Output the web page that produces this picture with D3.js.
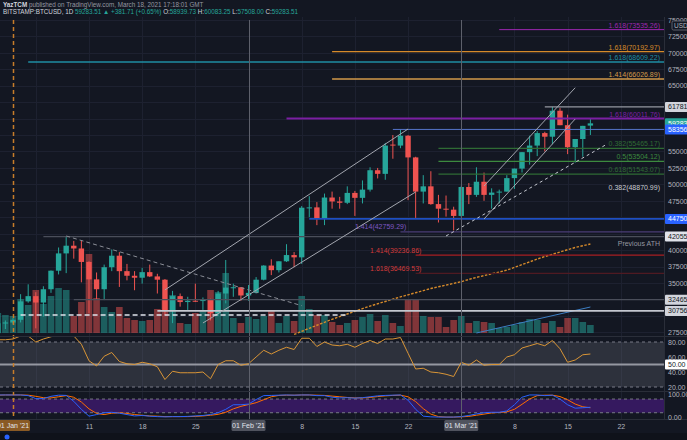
<!DOCTYPE html>
<html>
<head>
<meta charset="utf-8">
<script src="https://cdn.jsdelivr.net/npm/d3@7"></script>
<style>
html, body { margin: 0; padding: 0; background: #131722; }
svg { display: block; font-family: "Liberation Sans", Arial, sans-serif; }
</style>
</head>
<body>
<svg id="chart" width="687" height="440"></svg>
<script>
// BITSTAMP:BTCUSD 1D, 30 Dec 2020 -> 18 Mar 2021
var firstDay = "2020-12-30", lastDay = "2021-03-18";

var opens = [27370, 28880,
    28990, 29400, 32200, 33000, 32030, 34050, 36870, 39500, 40670, 40250,
    38200, 35550, 34050, 37400, 39150, 36800, 36100, 35800, 36650, 36000,
    35500, 30850, 33000, 32100, 32300, 32250, 32500, 30400, 33400, 34300, 34350,
    33100, 33500, 35500, 37650, 36950, 38300, 39250, 38900, 46450, 46500,
    44850, 48000, 47400, 47200, 48700, 47950, 49200, 52150, 51600, 56050,
    55900, 57400, 54100, 48900, 49700, 47000, 46300, 46150,
    45200, 49600, 48400, 50400, 48400, 48750, 48900, 50950, 52400, 54900,
    55900, 57800, 57250, 61200, 59000, 55650, 56900, 58940];
var highs = [28990, 29300,
    29680, 33300, 34800, 33600, 34500, 36900, 40400, 42000, 41400, 41400,
    38300, 36600, 37800, 40100, 39700, 37900, 36800, 37300, 37800, 36400,
    35600, 33800, 33400, 32900, 34900, 32800, 32600, 33800, 38500, 34900, 34350,
    34700, 35900, 37700, 38600, 38300, 40900, 39700, 46700, 48200, 47300,
    48600, 48900, 48100, 49700, 49000, 50600, 52600, 52500, 56300, 57500,
    58350, 57500, 54200, 51400, 52000, 48400, 48300, 46600,
    49800, 50200, 52600, 51800, 49400, 49200, 51400, 52400, 54900, 57400,
    58100, 58000, 61780, 61600, 60600, 56900, 58900, 60080];
var lows = [27320, 28000,
    28700, 29000, 32000, 28100, 29900, 33500, 36300, 36500, 38700, 35100,
    30400, 32500, 32400, 36800, 34400, 35400, 33900, 34900, 35900, 33400,
    30100, 28900, 31400, 30900, 32100, 30900, 29300, 30000, 31900, 32900, 32300,
    32300, 33400, 35400, 36200, 36600, 38200, 37400, 37900, 45000, 43800,
    43800, 46300, 46300, 47000, 45200, 47100, 48900, 50900, 50700, 53900,
    55500, 47600, 44900, 47100, 46900, 44200, 45100, 43000,
    45000, 47000, 48100, 47500, 46300, 47100, 48900, 49300, 51800, 53000,
    54300, 55000, 56100, 59000, 54600, 53300, 54200, 57510];
var closes = [28880, 28990,
    29400, 32200, 33000, 32030, 34050, 36870, 39500, 40670, 40250, 38200,
    35550, 34050, 37400, 39150, 36800, 36100, 35800, 36650, 36000, 35500,
    30850, 33000, 32100, 32300, 32250, 32500, 30400, 33400, 34300, 34350, 33100,
    33500, 35500, 37650, 36950, 38300, 39250, 38900, 46450, 46500, 44850,
    48000, 47400, 47200, 48700, 47950, 49200, 52150, 51600, 55900, 55900,
    57400, 54100, 48900, 49700, 47000, 46300, 46150, 45200,
    49600, 48400, 50400, 48400, 48750, 48900, 50950, 52400, 54900, 55900,
    57800, 57250, 61200, 59000, 55650, 56900, 58900, 59280];
// volume, thousand BTC
var volumes = [10, 9,
    8.5, 17, 14, 21.5, 14.5, 18.5, 22.5, 21.5, 8.5, 15.5,
    39.5, 17.5, 13, 10.5, 13, 7.5, 6.5, 6, 6.5, 12,
    16.5, 19, 5, 4.5, 10, 11.5, 21.5, 20.5, 30, 7.5, 5,
    8, 7, 8.5, 11.5, 5, 8.5, 6, 18.5, 12, 9,
    9, 5.5, 4, 5, 6.5, 8, 9.5, 6, 9, 5,
    3.5, 16.5, 17, 8.5, 8, 8, 3, 6.5,
    8.5, 5, 6, 5.5, 5, 2.5, 3, 4, 5.5, 7,
    6.5, 5, 6, 3, 7.5, 7.5, 5.5, 4];
var rsi = [83, 83,
    84, 88, 88, 80, 84, 87, 90, 90, 88, 77,
    55, 48, 61, 66, 54, 51, 50, 53, 51, 47,
    30, 41, 39, 39, 39, 40, 31, 50, 55, 55, 49,
    51, 60, 69, 64, 69, 73, 70, 85, 85, 74,
    80, 76, 75, 77, 73, 78, 82, 78, 84, 84,
    86, 65, 44, 45, 40, 39, 37, 34,
    53, 49, 56, 49, 50, 50, 60, 63, 72, 75,
    78, 75, 82, 71, 53, 56, 63, 64];
var stochK = [98, 98,
    98, 98, 95, 82, 82, 92, 97, 96, 70, 35,
    5, 12, 20, 22, 18, 12, 6, 8, 5, 3,
    2, 3, 3, 4, 6, 8, 12, 20, 35, 55, 55,
    58, 78, 95, 96, 97, 98, 97, 98, 98, 95,
    95, 88, 85, 86, 84, 86, 90, 94, 96, 97,
    98, 75, 35, 5, 2, 1, 1, 1,
    3, 8, 15, 20, 22, 22, 28, 55, 88, 98,
    98, 95, 97, 80, 55, 40, 42, 44];
var stochD = [97, 98,
    98, 98, 97, 92, 86, 85, 90, 95, 88, 67,
    37, 17, 12, 18, 20, 17, 12, 9, 6, 5,
    3, 3, 3, 3, 4, 6, 9, 13, 22, 37, 48,
    56, 64, 77, 90, 96, 97, 97, 98, 98, 97,
    96, 93, 90, 87, 85, 85, 87, 91, 94, 96,
    97, 90, 69, 38, 14, 3, 1, 1,
    2, 4, 9, 14, 19, 21, 24, 35, 57, 80,
    95, 97, 97, 91, 77, 58, 46, 42];
// moving average, from 7 Feb
var maStart = "2021-02-07";
var maValues = [27170, 27640, 28110, 28570, 29020, 29480, 29890, 30280, 30690, 31100, 31490,
    31840, 32190, 32540, 32890, 33200, 33520, 33840, 34160, 34420, 34680, 34940,
    35200, 35540, 35850, 36120, 36400, 36670, 36960, 37370, 37800, 38210, 38640,
    39020, 39370, 39710, 40060, 40400, 40660, 40930];

var priceTicks = d3.range(27500, 75001, 2500);
var dayTicks = ["2021-01-11", "2021-01-18", "2021-01-25", "2021-02-08", "2021-02-15", "2021-02-22", "2021-03-08", "2021-03-15", "2021-03-22"];

// horizontal drawings: price, start day, label, colour
var levels = [
    {p: 73535.26, from: "2021-03-06", label: "1.618(73535.26)", color: "#9c27b0", w: 1},
    {p: 70192.97, from: "2021-02-12", label: "1.618(70192.97)", color: "#d68a2a", w: 1.3},
    {p: 68609.22, from: "2021-01-03", label: "1.618(68609.22)", color: "#1f8ea3", w: 1.3},
    {p: 66026.89, from: "2021-02-12", label: "1.414(66026.89)", color: "#d39a4a", w: 1.3},
    {p: 61781, from: "2021-03-12", label: "", color: "#9598a1", w: 1.3},
    {p: 60011.76, from: "2021-02-06", label: "1.618(60011.76)", color: "#7b1fa2", w: 2},
    {p: 58356, from: "2021-02-20", label: "", color: "#5574c9", w: 1},
    {p: 55465.17, from: "2021-02-26", label: "0.382(55465.17)", color: "#2f6b34", w: 1.3},
    {p: 53504.12, from: "2021-02-26", label: "0.5(53504.12)", color: "#3c8a3f", w: 1.3},
    {p: 51543.07, from: "2021-02-26", label: "0.618(51543.07)", color: "#2f6b34", w: 1.3},
    {p: 48870.99, from: "2021-02-26", label: "0.382(48870.99)", color: "#131722", w: 0, text: "#c9cbd1"},
    {p: 44750, from: "2021-02-09", label: "", color: "#1e4fc2", w: 1.6},
    {p: 42759.29, from: "2021-02-21", label: "", color: "#4a3d75", w: 1.3},
    {p: 42055, from: "2021-01-05", label: "Previous ATH", color: "#4a4e5a", w: 1.3, below: true, text: "#9598a1"},
    {p: 39236.86, from: "2021-02-23", label: "", color: "#a81f22", w: 1.3},
    {p: 36469.53, from: "2021-02-23", label: "", color: "#4f1a22", w: 1.3},
    {p: 32465, from: "2021-01-09", label: "", color: "#4a4e5a", w: 1.3},
    {p: 30756, from: "2021-01-20", label: "", color: "#c4c7cf", w: 1.8}
];
// labels written at the left end of a level
var sideLabels = [
    {p: 42759.29, at: "2021-02-15", label: "1.414(42759.29)", color: "#7e57c2"},
    {p: 39236.86, at: "2021-02-17", label: "1.414(39236.86)", color: "#d23a3a"},
    {p: 36469.53, at: "2021-02-17", label: "1.618(36469.53)", color: "#d23a3a"}
];
// trend lines: [day, price] pairs
var trendLines = [
    {a: ["2021-01-21", 33950], b: ["2021-02-22", 58420], dash: null},
    {a: ["2021-01-26", 28915], b: ["2021-02-23", 48840], dash: null},
    {a: ["2021-03-04", 49750], b: ["2021-03-16", 64700], dash: null},
    {a: ["2021-03-04", 44730], b: ["2021-03-16", 59940], dash: null},
    {a: ["2021-01-08", 42150], b: ["2021-02-08", 31550], dash: "4,3", color: "#8a8d96"},
    {a: ["2021-02-27", 42150], b: ["2021-03-20", 56000], dash: "3,3", color: "#c4c7cf"},
    {a: ["2021-01-02", 30150], b: ["2021-02-14", 30150], dash: "5,3", color: "#e0e3eb", w: 1.5}
];
var volLine = {a: ["2021-03-03", 0], b: ["2021-03-18", 13]};
// axis boxes on the price scale
var priceBoxes = [
    {p: 61781, text: "61781.00", bg: "#d1d4dc", fg: "#131722"},
    {p: 59283.51, text: "59283.51", bg: "#26a69a", fg: "#ffffff"},
    {p: 58356, text: "58356.00", bg: "#2962ff", fg: "#ffffff"},
    {p: 44750, text: "44750.00", bg: "#2962ff", fg: "#ffffff"},
    {p: 42055, text: "42055.00", bg: "#e0e3eb", fg: "#131722"},
    {p: 32465, text: "32465.00", bg: "#d1d4dc", fg: "#131722"},
    {p: 30756, text: "30756.00", bg: "#d1d4dc", fg: "#131722"}
];
var markDays = [
    {d: "2021-01-01", label: "01 Jan '21", color: "#c77d2a", dash: "4,3", bg: "#8a5a24"},
    {d: "2021-02-01", label: "01 Feb '21", color: "#5d606b", dash: null, bg: "#50535e"},
    {d: "2021-03-01", label: "01 Mar '21", color: "#5d606b", dash: null, bg: "#50535e"}
];

var parse = d3.utcParse("%Y-%m-%d");
var days = d3.utcDays(parse(firstDay), d3.utcDay.offset(parse(lastDay), 1));
var bars = days.map(function (d, i) {
    return {date: d, o: opens[i], h: highs[i], l: lows[i], c: closes[i], v: volumes[i], rsi: rsi[i], k: stochK[i], dd: stochD[i]};
});
var maDays = d3.utcDays(parse(maStart), d3.utcDay.offset(parse(lastDay), 1));

var svg = d3.select("#chart");
var W = 687, H = 440, plotR = 664;
var mainTop = 17, mainBot = 336, rsiTop = 337, rsiBot = 391, stTop = 392, stBot = 419;
var teal = "#26a69a", red = "#ef5350", txt = "#b2b5be";

var x = d3.scaleUtc().domain([parse("2021-01-01"), parse("2021-03-15")]).range([13, 567.6]);
var y = d3.scaleLinear().domain([27500, 75000]).range([332.3, 20]);
var yVol = d3.scaleLinear().domain([0, 40]).range([333, 253]);
var yRsi = d3.scaleLinear().domain([20, 80]).range([387, 342]);
var ySt = d3.scaleLinear().domain([0, 100]).range([417.3, 394.5]);

svg.append("rect").attr("width", W).attr("height", H).attr("fill", "#131722");

var defs = svg.append("defs");
defs.append("clipPath").attr("id", "cMain").append("rect")
    .attr("x", 0).attr("y", mainTop).attr("width", plotR).attr("height", mainBot - mainTop);
defs.append("clipPath").attr("id", "cRsi").append("rect")
    .attr("x", 0).attr("y", rsiTop).attr("width", plotR).attr("height", rsiBot - rsiTop);
defs.append("clipPath").attr("id", "cSt").append("rect")
    .attr("x", 0).attr("y", stTop).attr("width", plotR).attr("height", stBot - stTop);
defs.append("clipPath").attr("id", "cAxis").append("rect")
    .attr("x", 0).attr("y", stBot).attr("width", W).attr("height", 14);

// grid
var grid = svg.append("g").attr("stroke", "#1d2130").attr("stroke-width", 1);
grid.selectAll(".hg").data(priceTicks).enter().append("line")
    .attr("x1", 0).attr("x2", plotR)
    .attr("y1", function (d) { return Math.round(y(d)) + 0.5; })
    .attr("y2", function (d) { return Math.round(y(d)) + 0.5; });
var gridDays = dayTicks.concat(["2021-01-04"]).map(parse);
grid.selectAll(".vg").data(gridDays).enter().append("line")
    .attr("y1", mainTop).attr("y2", stBot)
    .attr("x1", function (d) { return Math.round(x(d)) + 0.5; })
    .attr("x2", function (d) { return Math.round(x(d)) + 0.5; });

// main pane
var main = svg.append("g").attr("clip-path", "url(#cMain)");

main.selectAll(".vol").data(bars).enter().append("rect")
    .attr("x", function (d) { return x(d.date) - 3.3; })
    .attr("width", 6.6)
    .attr("y", function (d) { return yVol(d.v); })
    .attr("height", function (d) { return yVol(0) - yVol(d.v); })
    .attr("fill", function (d) { return d.c >= d.o ? teal : red; })
    .attr("opacity", 0.5);

main.append("path")
    .datum(maDays.map(function (d, i) { return [d, maValues[i]]; }))
    .attr("fill", "none").attr("stroke", "#d68a2a").attr("stroke-width", 1.4)
    .attr("stroke-dasharray", "2.5,1.5")
    .attr("d", d3.line().x(function (d) { return x(d[0]); }).y(function (d) { return y(d[1]); }));

main.append("line")
    .attr("x1", x(parse(volLine.a[0]))).attr("y1", yVol(volLine.a[1]))
    .attr("x2", x(parse(volLine.b[0]))).attr("y2", yVol(volLine.b[1]))
    .attr("stroke", "#3d7fc4").attr("stroke-width", 1);

var candle = main.selectAll(".candle").data(bars).enter().append("g")
    .attr("fill", function (d) { return d.c >= d.o ? teal : red; })
    .attr("stroke", function (d) { return d.c >= d.o ? teal : red; });
candle.append("line")
    .attr("x1", function (d) { return x(d.date); })
    .attr("x2", function (d) { return x(d.date); })
    .attr("y1", function (d) { return y(d.h); })
    .attr("y2", function (d) { return y(d.l); })
    .attr("stroke-width", 1);
candle.append("rect")
    .attr("x", function (d) { return x(d.date) - 2.7; })
    .attr("width", 5.4)
    .attr("y", function (d) { return y(Math.max(d.o, d.c)); })
    .attr("height", function (d) { return Math.max(1, Math.abs(y(d.o) - y(d.c))); })
    .attr("stroke", "none");

// horizontal levels
main.selectAll(".lvl").data(levels.filter(function (d) { return d.w > 0; })).enter().append("line")
    .attr("x1", function (d) { return x(parse(d.from)); })
    .attr("x2", plotR)
    .attr("y1", function (d) { return y(d.p); })
    .attr("y2", function (d) { return y(d.p); })
    .attr("stroke", function (d) { return d.color; })
    .attr("stroke-width", function (d) { return d.w; });
main.selectAll(".lvlt").data(levels.filter(function (d) { return d.label; })).enter().append("text")
    .attr("x", 660)
    .attr("y", function (d) { return d.below ? y(d.p) + 9 : y(d.p) - 2; })
    .attr("text-anchor", "end")
    .attr("font-size", 7)
    .attr("fill", function (d) { return d.text || d.color; })
    .text(function (d) { return d.label; });
main.selectAll(".sidet").data(sideLabels).enter().append("text")
    .attr("x", function (d) { return x(parse(d.at)); })
    .attr("y", function (d) { return y(d.p) - 2.5; })
    .attr("font-size", 7)
    .attr("fill", function (d) { return d.color; })
    .text(function (d) { return d.label; });

// trend lines
main.selectAll(".tl").data(trendLines).enter().append("line")
    .attr("x1", function (d) { return x(parse(d.a[0])); })
    .attr("y1", function (d) { return y(d.a[1]); })
    .attr("x2", function (d) { return x(parse(d.b[0])); })
    .attr("y2", function (d) { return y(d.b[1]); })
    .attr("stroke", function (d) { return d.color || "#a3a6af"; })
    .attr("stroke-width", function (d) { return d.w || 1; })
    .attr("stroke-dasharray", function (d) { return d.dash; });

// RSI pane
var rp = svg.append("g").attr("clip-path", "url(#cRsi)");
rp.append("rect").attr("x", 0).attr("width", plotR)
    .attr("y", yRsi(80)).attr("height", yRsi(20) - yRsi(80))
    .attr("fill", "#787b86").attr("opacity", 0.26);
rp.selectAll(".rb").data([80, 20]).enter().append("line")
    .attr("x1", 0).attr("x2", plotR)
    .attr("y1", function (d) { return yRsi(d); }).attr("y2", function (d) { return yRsi(d); })
    .attr("stroke", "#787b86").attr("stroke-dasharray", "3,3");
rp.append("line").attr("x1", 0).attr("x2", plotR)
    .attr("y1", yRsi(50)).attr("y2", yRsi(50))
    .attr("stroke", "#9598a1").attr("stroke-width", 2);
rp.append("path").datum(bars)
    .attr("fill", "none").attr("stroke", "#d99536").attr("stroke-width", 1)
    .attr("d", d3.line().x(function (d) { return x(d.date); }).y(function (d) { return yRsi(d.rsi); }));

// Stoch RSI pane
var sp = svg.append("g").attr("clip-path", "url(#cSt)");
sp.append("rect").attr("x", 0).attr("width", plotR)
    .attr("y", ySt(80)).attr("height", ySt(20) - ySt(80))
    .attr("fill", "#35195f");
sp.selectAll(".sb").data([80, 20]).enter().append("line")
    .attr("x1", 0).attr("x2", plotR)
    .attr("y1", function (d) { return ySt(d); }).attr("y2", function (d) { return ySt(d); })
    .attr("stroke", "#787b86").attr("stroke-dasharray", "3,3");
sp.append("path").datum(bars)
    .attr("fill", "none").attr("stroke", "#ff6d00").attr("stroke-width", 1)
    .attr("d", d3.line().x(function (d) { return x(d.date); }).y(function (d) { return ySt(d.dd); }));
sp.append("path").datum(bars)
    .attr("fill", "none").attr("stroke", "#2962ff").attr("stroke-width", 1)
    .attr("d", d3.line().x(function (d) { return x(d.date); }).y(function (d) { return ySt(d.k); }));

// vertical markers
svg.selectAll(".mk").data(markDays).enter().append("line")
    .attr("x1", function (d) { return Math.round(x(parse(d.d))) + 0.5; })
    .attr("x2", function (d) { return Math.round(x(parse(d.d))) + 0.5; })
    .attr("y1", mainTop + 3).attr("y2", stBot)
    .attr("stroke", function (d) { return d.color; })
    .attr("stroke-width", function (d) { return d.dash ? 1.5 : 1; })
    .attr("stroke-dasharray", function (d) { return d.dash; });

// pane separators
svg.selectAll(".sep").data([mainBot + 0.5, rsiBot + 0.5, stBot + 0.5]).enter().append("line")
    .attr("x1", 0).attr("x2", W).attr("y1", function (d) { return d; }).attr("y2", function (d) { return d; })
    .attr("stroke", "#2a2e39").attr("stroke-width", 1);
svg.append("line").attr("x1", plotR + 0.5).attr("x2", plotR + 0.5).attr("y1", mainTop).attr("y2", stBot)
    .attr("stroke", "#2a2e39");

// price axis (ticks hidden behind a value box are left out)
var shownTicks = priceTicks.filter(function (t) {
    return !priceBoxes.some(function (b) { return Math.abs(y(t) - y(b.p)) < 7; });
});
var yAxis = d3.axisRight(y).tickValues(shownTicks).tickSize(0).tickPadding(4)
    .tickFormat(function (d) { return d3.format(".2f")(d); });
var gy = svg.append("g").attr("transform", "translate(" + plotR + ",0)").call(yAxis);
gy.select(".domain").remove();
gy.selectAll("text").attr("fill", txt).attr("font-size", 7).attr("font-family", "Liberation Sans, Arial, sans-serif");

var pb = svg.selectAll(".pbox").data(priceBoxes).enter().append("g")
    .attr("transform", function (d) { return "translate(" + (plotR + 1) + "," + y(d.p) + ")"; });
pb.append("rect").attr("x", 0).attr("y", -5).attr("width", 30).attr("height", 10)
    .attr("fill", function (d) { return d.bg; }).attr("rx", 1);
pb.append("text").attr("x", 3).attr("y", 2.5).attr("font-size", 7)
    .attr("fill", function (d) { return d.fg; }).text(function (d) { return d.text; });

var usd = svg.append("g").attr("transform", "translate(672,21)");
usd.append("rect").attr("width", 18).attr("height", 9).attr("fill", "#131722")
    .attr("stroke", "#5d606b").attr("rx", 1.5);
usd.append("text").attr("x", 2).attr("y", 6.8).attr("font-size", 6.5).attr("fill", txt).text("USD");

// RSI / stoch scales
var rsiAxis = d3.axisRight(yRsi).tickValues([80, 60, 40, 20]).tickSize(0).tickPadding(4)
    .tickFormat(d3.format(".2f"));
var gr = svg.append("g").attr("transform", "translate(" + plotR + ",0)").call(rsiAxis);
var stAxis = d3.axisRight(ySt).tickValues([100, 0]).tickSize(0).tickPadding(4)
    .tickFormat(d3.format(".2f"));
var gs = svg.append("g").attr("transform", "translate(" + plotR + ",0)").call(stAxis);
[gr, gs].forEach(function (g) {
    g.select(".domain").remove();
    g.selectAll("text").attr("fill", txt).attr("font-size", 7).attr("font-family", "Liberation Sans, Arial, sans-serif");
});
var fifty = svg.append("g").attr("transform", "translate(" + (plotR + 1) + "," + yRsi(50) + ")");
fifty.append("rect").attr("y", -5).attr("width", 24).attr("height", 10).attr("fill", "#ffffff").attr("rx", 1);
fifty.append("text").attr("x", 3).attr("y", 2.5).attr("font-size", 7).attr("fill", "#131722").text("50.00");

// time axis
var xAxis = d3.axisBottom(x).tickValues(dayTicks.map(parse)).tickSize(0).tickPadding(4)
    .tickFormat(d3.utcFormat("%-d"));
var gx = svg.append("g").attr("transform", "translate(0," + (stBot + 1) + ")").call(xAxis);
gx.select(".domain").remove();
gx.selectAll("text").attr("fill", txt).attr("font-size", 7).attr("font-family", "Liberation Sans, Arial, sans-serif");

var mb = svg.append("g").attr("clip-path", "url(#cAxis)").selectAll(".mb").data(markDays).enter().append("g")
    .attr("transform", function (d) { return "translate(" + x(parse(d.d)) + "," + (stBot + 1) + ")"; });
mb.append("rect").attr("x", -17).attr("y", 0).attr("width", 34).attr("height", 11)
    .attr("fill", function (d) { return d.bg; }).attr("rx", 1.5);
mb.append("text").attr("y", 8).attr("text-anchor", "middle").attr("font-size", 7)
    .attr("fill", "#e0e3eb").text(function (d) { return d.label; });

// footer
svg.append("rect").attr("x", 0).attr("y", 433).attr("width", W).attr("height", 7).attr("fill", "#0f121a");
svg.append("circle").attr("cx", 7).attr("cy", 437).attr("r", 2.5).attr("fill", "#2962ff");

// header
var h1 = svg.append("text").attr("x", 3).attr("y", 6.5).attr("font-size", 6.3).attr("fill", "#9598a1");
h1.append("tspan").attr("fill", "#d1d4dc").attr("font-weight", "bold").text("YazTCM");
h1.append("tspan").text(" published on TradingView.com, March 18, 2021 17:18:01 GMT");

var h2 = svg.append("text").attr("x", 3).attr("y", 13.5).attr("font-size", 6.3).attr("fill", "#d1d4dc");
var hparts = [
    ["BITSTAMP:BTCUSD, 1D ", "#d1d4dc"], ["59283.51 ", teal], ["\u25B2 ", teal],
    ["+381.71 (+0.65%) ", teal], ["O:", "#d1d4dc"], ["58939.73 ", teal], ["H:", "#d1d4dc"],
    ["60083.25 ", teal], ["L:", "#d1d4dc"], ["57508.00 ", teal], ["C:", "#d1d4dc"], ["59283.51", teal]
];
hparts.forEach(function (p) { h2.append("tspan").attr("fill", p[1]).text(p[0]); });
</script>
</body>
</html>
